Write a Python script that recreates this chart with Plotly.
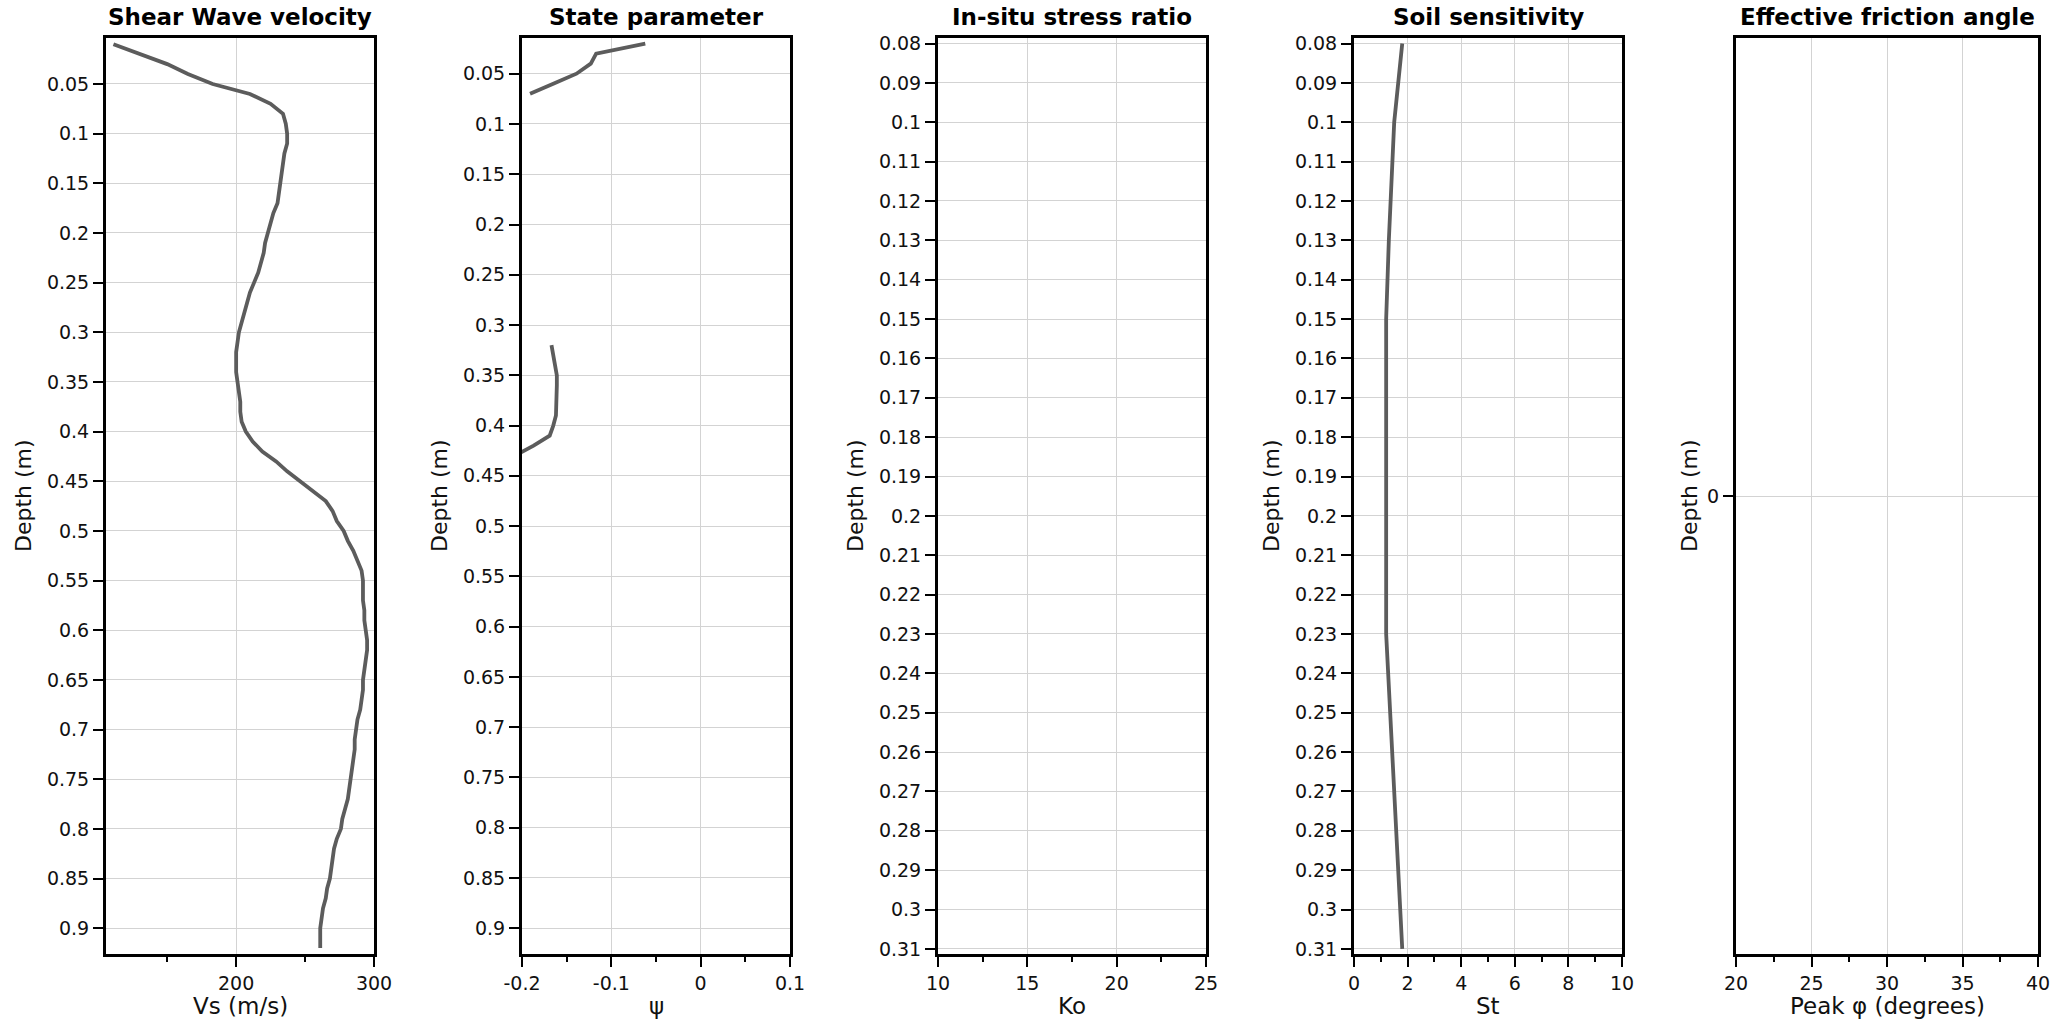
import plotly.graph_objects as go

# ---- data -------------------------------------------------------------
vs_depth = [0.01, 0.02, 0.03, 0.04, 0.05, 0.06, 0.07, 0.08, 0.09, 0.10,
            0.11, 0.12, 0.13, 0.14, 0.15, 0.16, 0.17, 0.18, 0.19, 0.20,
            0.21, 0.22, 0.23, 0.24, 0.25, 0.26, 0.27, 0.28, 0.29, 0.30,
            0.31, 0.32, 0.33, 0.34, 0.35, 0.36, 0.37, 0.38, 0.39, 0.40,
            0.41, 0.42, 0.43, 0.44, 0.45, 0.46, 0.47, 0.48, 0.49, 0.50,
            0.51, 0.52, 0.53, 0.54, 0.55, 0.56, 0.57, 0.58, 0.59, 0.60,
            0.61, 0.62, 0.63, 0.64, 0.65, 0.66, 0.67, 0.68, 0.69, 0.70,
            0.71, 0.72, 0.73, 0.74, 0.75, 0.76, 0.77, 0.78, 0.79, 0.80,
            0.81, 0.82, 0.83, 0.84, 0.85, 0.86, 0.87, 0.88, 0.89, 0.90,
            0.91, 0.92]
vs_values = [111, 130, 150, 165, 183, 210, 225, 234, 236, 237,
             237, 235, 234, 233, 232, 231, 230, 227, 225, 223,
             221, 220, 218, 216, 213, 210, 208, 206, 204, 202,
             201, 200, 200, 200, 201, 202, 203, 203, 204, 207,
             212, 219, 229, 237, 246, 256, 265, 270, 273, 278,
             281, 285, 288, 291, 292, 292, 292, 293, 293, 294,
             295, 295, 294, 293, 292, 292, 291, 290, 288, 287,
             286, 286, 285, 284, 283, 282, 281, 279, 277, 276,
             273, 271, 270, 269, 268, 266, 265, 263, 262, 261,
             261, 261]

psi_depth = [0.02, 0.03, 0.04, 0.05, 0.06, 0.07, 0.08,
             0.31, 0.32, 0.33, 0.34, 0.35, 0.36, 0.37, 0.38,
             0.39, 0.40, 0.41, 0.42, 0.43]
psi_values = [-0.062, -0.117, -0.123, -0.139, -0.165, -0.191, None,
              None, -0.167, -0.165, -0.163, -0.161, -0.161, -0.161, -0.162,
              -0.162, -0.165, -0.169, -0.187, -0.208]

ko_depth = []
ko_values = []

st_depth = [0.08, 0.10, 0.13, 0.15, 0.23, 0.30, 0.31]
st_values = [1.8, 1.5, 1.3, 1.2, 1.2, 1.7, 1.8]

phi_depth = []
phi_values = []

titles = ["Shear Wave velocity", "State parameter", "In-situ stress ratio",
          "Soil sensitivity", "Effective friction angle"]
x_titles = ["Vs (m/s)", "\u03c8", "Ko", "St", "Peak \u03c6 (degrees)"]
psi_ticks = [-0.2, -0.1, 0, 0.1]
psi_ticktext = ["-0.2", "-0.1", "0", "0.1"]

# ---- layout geometry (pixels) ----------------------------------------
W, H = 2072, 1020
panels = [(106, 374), (522, 790), (938, 1206), (1354, 1622), (1736, 2038)]
title_offsets = [83, 83, 83, 83, 47]
top_px, bottom_px = 38, 954
ydom = [(H - bottom_px) / H, (H - top_px) / H]

FONT = "Verdana, DejaVu Sans, sans-serif"
LINE = "#5c5c5c"
GRID = "#d3d3d3"

fig = go.Figure()
series = [(vs_values, vs_depth), (psi_values, psi_depth), (ko_values, ko_depth),
          (st_values, st_depth), (phi_values, phi_depth)]
for i, (xv, yv) in enumerate(series):
    n = "" if i == 0 else str(i + 1)
    fig.add_trace(go.Scatter(x=xv, y=yv, mode="lines", xaxis="x" + n, yaxis="y" + n,
                             line=dict(color=LINE, width=3.8), showlegend=False,
                             connectgaps=False))

x_ranges = [[105.6, 300], [-0.2, 0.1], [10, 25], [0, 10], [20, 40]]
x_dtick = [100, 0.1, 5, 2, 5]
x_minor = [50, 0.05, 2.5, 1, 2.5]
y_ranges = [[0.926, 0.0037], [0.9256, 0.0145], [0.3113, 0.0786],
            [0.3113, 0.0786], [1, -1]]
y_dtick = [0.05, 0.05, 0.01, 0.01, None]

common = dict(showline=True, linecolor="black", linewidth=3, mirror=True,
              ticks="outside", tickcolor="black", tickwidth=2, automargin=False,
              showgrid=True, gridcolor=GRID, gridwidth=1, zeroline=False,
              tickfont=dict(family=FONT, size=19, color="#111"))

for i in range(5):
    n = "" if i == 0 else str(i + 1)
    l, r = panels[i]
    xa = dict(common, domain=[l / W, r / W], anchor="y" + n, range=x_ranges[i],
              dtick=x_dtick[i], tick0=0, ticklen=10,
              minor=dict(dtick=x_minor[i], tick0=0, ticks="outside", ticklen=5,
                         tickcolor="black", tickwidth=2, showgrid=False))
    if i == 1:
        xa.update(tickmode="array", tickvals=psi_ticks, ticktext=psi_ticktext)
    ya = dict(common, domain=ydom, anchor="x" + n, range=y_ranges[i], ticklen=10)
    if y_dtick[i] is None:
        ya.update(tickmode="array", tickvals=[0], ticktext=["0"])
    else:
        ya.update(dtick=y_dtick[i], tick0=0)
    fig.layout["xaxis" + n] = xa
    fig.layout["yaxis" + n] = ya

    cx = (l + r) / 2 / W
    fig.add_annotation(text="<b>" + titles[i] + "</b>", x=cx, y=(H - 17) / H,
                       xref="paper", yref="paper", showarrow=False,
                       xanchor="center", yanchor="middle",
                       font=dict(family=FONT, size=23, color="black"))
    fig.add_annotation(text=x_titles[i], x=cx, y=(H - 1006) / H,
                       xref="paper", yref="paper", showarrow=False,
                       xanchor="center", yanchor="middle",
                       font=dict(family=FONT, size=23, color="#111"))
    fig.add_annotation(text="Depth (m)", x=(l - title_offsets[i]) / W,
                       y=(H - (top_px + bottom_px) / 2) / H,
                       xref="paper", yref="paper", showarrow=False, textangle=-90,
                       xanchor="center", yanchor="middle",
                       font=dict(family=FONT, size=22, color="#111"))

fig.update_layout(template="none", width=W, height=H,
                  margin=dict(l=0, r=0, t=0, b=0, autoexpand=False),
                  paper_bgcolor="white", plot_bgcolor="white",
                  font=dict(family=FONT, color="#111"))

fig.write_html("out.html")
